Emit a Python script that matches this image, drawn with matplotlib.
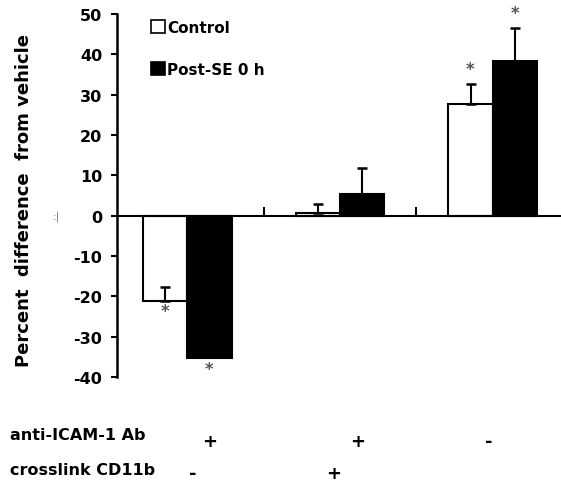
import matplotlib
matplotlib.use("Agg")
import matplotlib.pyplot as plt
import numpy as np

plt.rcParams['font.family'] = ['DejaVu Sans']
plt.rcParams['font.weight'] = 'bold'
plt.rcParams['axes.unicode_minus'] = False

# donnees
groupes = [0.5, 1.5, 2.5]
control = [-21.2, 0.6, 27.7]
control_err = [3.4, 2.4, 5.0]
post_se = [-35.4, 5.4, 38.3]
post_se_err = [0.0, 6.5, 8.2]
control_star = [True, False, True]
post_star = [True, False, True]
ligne1 = ['+', '+', '-']
ligne2 = ['-', '+', '']

largeur = 0.29
x = np.array(groupes)

fig = plt.figure(figsize=(5.61, 4.85), dpi=100)
ax = fig.add_axes([117 / 561, 1 - 378 / 485, 452 / 561, (378 - 15) / 485])

b1 = ax.bar(x - largeur / 2, control, largeur, color='white', edgecolor='black', linewidth=1.5, zorder=2)
b2 = ax.bar(x + largeur / 2, post_se, largeur, color='black', edgecolor='black', linewidth=1.5, zorder=2)

# barres d'erreur (vers le haut uniquement)
for i in range(3):
    xc = x[i] - largeur / 2
    ax.errorbar(xc, control[i], yerr=[[0], [control_err[i]]], fmt='none', ecolor='black',
                elinewidth=1.5, capsize=3.5, capthick=1.8, zorder=3)
    if post_se_err[i] > 0:
        xp = x[i] + largeur / 2
        ax.errorbar(xp, post_se[i], yerr=[[0], [post_se_err[i]]], fmt='none', ecolor='black',
                    elinewidth=1.5, capsize=3.5, capthick=1.8, zorder=3)

# asterisques
gris = '#555555'
for i in range(3):
    if control_star[i]:
        if control[i] < 0:
            ax.text(x[i] - largeur / 2, control[i] - 0.3, '*', ha='center', va='top', fontsize=12, color=gris)
        else:
            ax.text(x[i] - largeur / 2, control[i] + control_err[i] + 1.5, '*', ha='center', va='bottom', fontsize=12, color=gris)
    if post_star[i]:
        if post_se[i] < 0:
            ax.text(x[i] + largeur / 2, post_se[i] - 0.3, '*', ha='center', va='top', fontsize=12, color=gris)
        else:
            ax.text(x[i] + largeur / 2, post_se[i] + post_se_err[i] + 1.5, '*', ha='center', va='bottom', fontsize=12, color=gris)

ax.set_xlim(0.04, 3.0)
ax.set_ylim(-40, 50)
ax.set_yticks(np.arange(-40, 51, 10))
ax.set_xticks([1, 2, 3])
ax.set_xticklabels([])

ax.spines['top'].set_visible(False)
ax.spines['right'].set_visible(False)
ax.spines['bottom'].set_position(('data', 0))
ax.spines['bottom'].set_linewidth(1.5)
ax.spines['left'].set_linewidth(1.8)
ax.tick_params(axis='x', direction='in', length=6.5, width=1.5)
ax.tick_params(axis='y', direction='out', length=4.5, width=1.5, labelsize=11.5, pad=6)

ax.set_ylabel('Percent  difference  from vehicle', fontsize=13, fontweight='bold')
ax.yaxis.set_label_coords(-0.185, 0.49)

# legende
leg = ax.legend([b1, b2], ['Control', 'Post-SE 0 h'], loc='upper left',
                bbox_to_anchor=(0.075, 0.984), frameon=False, fontsize=11,
                handlelength=0.9, handleheight=0.9, handletextpad=0.15,
                labelspacing=1.75, borderpad=0, borderaxespad=0)
for h in leg.legend_handles:
    h.set_linewidth(1.2)

ax.text(-0.36, 0, ':|', fontsize=8, va='center', ha='center', color='#777777', fontweight='normal')

# lignes de traitement sous le graphique
fig.text(10 / 561, 1 - 436 / 485, 'anti-ICAM-1 Ab', fontsize=11.5, va='center', ha='left')
fig.text(10 / 561, 1 - 471 / 485, 'crosslink CD11b', fontsize=11.5, va='center', ha='left')
pos1 = [210, 358, 489]
pos2 = [193, 334, 0]
for i in range(3):
    fig.text(pos1[i] / 561, 1 - 442 / 485, ligne1[i], fontsize=13, va='center', ha='center')
    if ligne2[i]:
        fig.text(pos2[i] / 561, 1 - 474 / 485, ligne2[i], fontsize=13, va='center', ha='center')

fig.savefig('out.png', dpi=100)
